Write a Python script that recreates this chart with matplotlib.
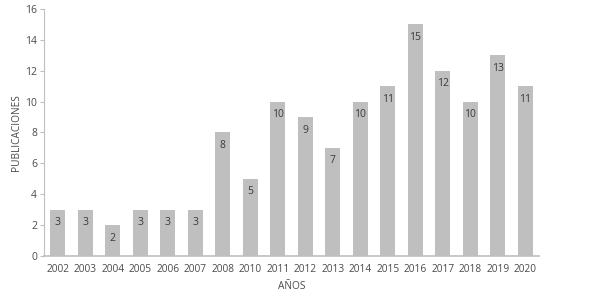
import matplotlib.pyplot as plt

years = ["2002", "2003", "2004", "2005", "2006", "2007", "2008", "2010", "2011",
         "2012", "2013", "2014", "2015", "2016", "2017", "2018", "2019", "2020"]
pubs = [3, 3, 2, 3, 3, 3, 8, 5, 10, 9, 7, 10, 11, 15, 12, 10, 13, 11]

plt.rcParams['font.family'] = ['Open Sans', 'DejaVu Sans']

fig = plt.figure(figsize=(5.89, 2.96), dpi=100)
ax = fig.add_axes([0.0747, 0.135, 0.8403, 0.835])

x = range(len(years))
bars = ax.bar(x, pubs, width=0.55, color="#bfbfbf")
for b, v in zip(bars, pubs):
    ax.annotate(str(v), (b.get_x() + b.get_width() / 2, v), xytext=(0, -9.4),
                textcoords="offset points", ha="center", va="center",
                fontsize=7.5, color="#3a3a3a")

ax.set_xlim(-0.5, len(years) - 0.5)
ax.set_ylim(0, 16)
ax.set_yticks(range(0, 17, 2))
ax.set_xticks(list(x))
ax.set_xticklabels(years)
ax.tick_params(axis="x", length=0, pad=6, labelsize=7.3, labelcolor="#4a4a4a")
ax.tick_params(axis="y", length=3, width=0.8, color="#bfbfbf", pad=2,
               labelsize=7.5, labelcolor="#4a4a4a")
for s in ["top", "right"]:
    ax.spines[s].set_visible(False)
ax.spines["left"].set_color("#bfbfbf")
ax.spines["bottom"].set_color("#bfbfbf")
ax.spines["bottom"].set_linewidth(1.2)

ax.set_ylabel("PUBLICACIONES", fontsize=7.3, color="#4a4a4a", labelpad=2)
ax.set_xlabel("AÑOS", fontsize=7.3, color="#4a4a4a", labelpad=4)

fig.savefig("out.png", dpi=100)
